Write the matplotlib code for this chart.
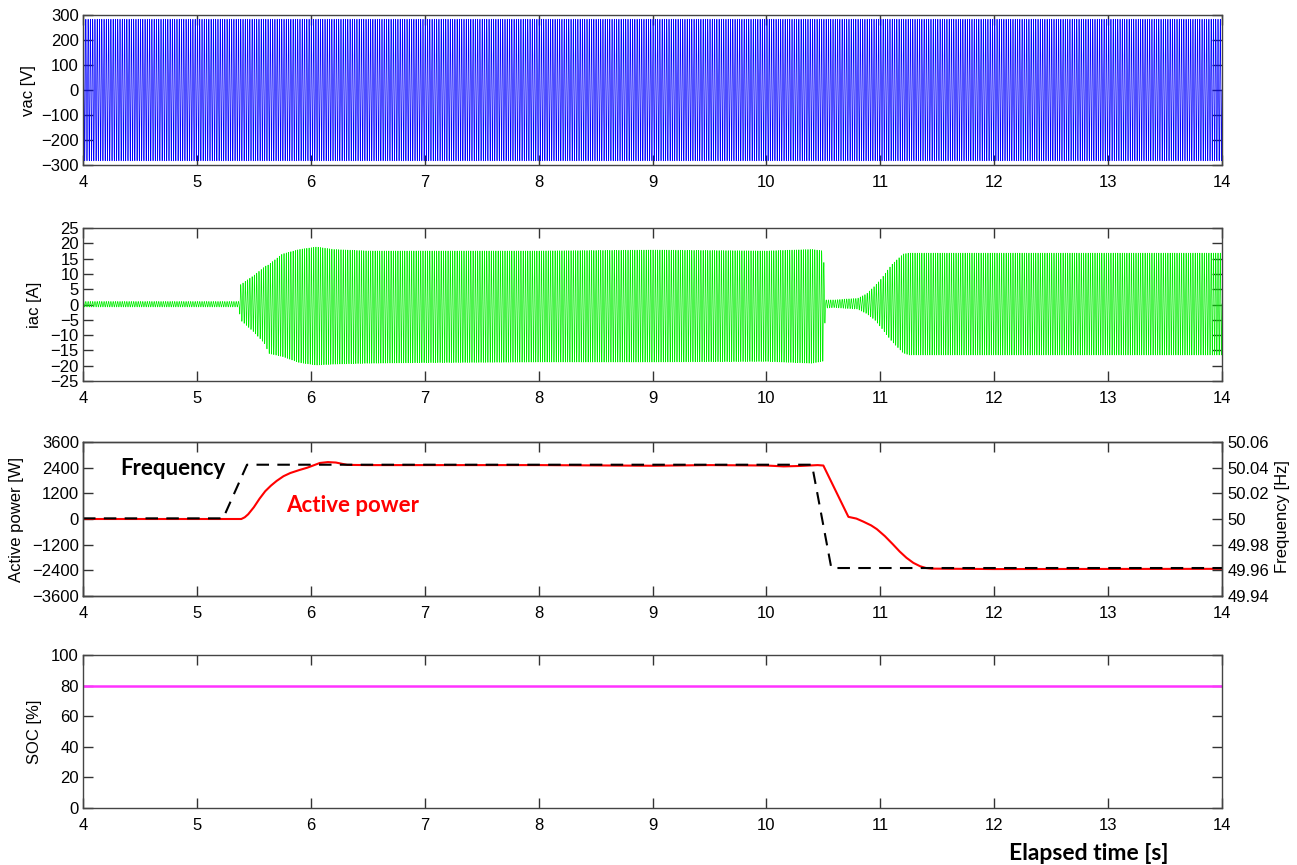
import numpy as np
import matplotlib
matplotlib.use("Agg")
import matplotlib.pyplot as plt

# envelope / trace values
grid_hz = 50.0
vac_amp = 283.0

iac_t = [4.0, 5.37, 5.38, 5.5, 5.6, 5.63, 5.75, 5.9, 6.05, 6.2, 6.5, 7.0, 8.0, 9.0,
         10.0, 10.4, 10.5, 10.52, 10.6, 10.7, 10.8, 10.88, 10.95, 11.0, 11.1, 11.2,
         11.25, 14.0]
iac_up = [1.0, 1.0, 6.4, 9.5, 12.5, 13.0, 16.5, 18.0, 18.8, 18.0, 17.5, 17.5, 17.5, 17.8,
          17.5, 18.0, 17.5, 1.5, 1.5, 1.8, 2.0, 3.5, 6.0, 8.0, 13.0, 16.5,
          16.8, 16.8]
iac_lo = [-0.8, -0.8, -5.0, -9.0, -13.0, -16.0, -17.0, -19.0, -19.8, -19.5, -19.2, -19.0, -18.8, -18.8,
          -18.6, -19.2, -18.5, -1.2, -1.0, -1.3, -1.5, -3.0, -5.0, -7.2, -12.0, -15.8,
          -16.5, -16.5]

p_t = [4.0, 5.39, 5.42, 5.45, 5.5, 5.55, 5.6, 5.65, 5.7, 5.76, 5.82, 5.9, 5.97, 6.03,
       6.08, 6.15, 6.22, 6.32, 6.5, 8.0, 9.0, 9.5, 10.0, 10.15, 10.3, 10.45, 10.5,
       10.72, 10.79, 10.85, 10.92, 10.97, 11.04, 11.11, 11.17, 11.23, 11.29, 11.35,
       11.40, 11.45, 12.0, 14.0]
p_w = [0, 0, 80, 220, 550, 950, 1300, 1560, 1780, 2000, 2150, 2290, 2400, 2520,
       2620, 2660, 2640, 2530, 2520, 2520, 2490, 2520, 2500, 2460, 2480, 2520, 2500,
       100, 20, -120, -300, -475, -800, -1180, -1520, -1815, -2050, -2210,
       -2290, -2320, -2340, -2330]

f_t = [4.0, 5.23, 5.44, 10.40, 10.57, 14.0]
f_hz = [50.0005, 50.0005, 50.0423, 50.0423, 49.9618, 49.9618]

soc_t = [4.0, 14.0]
soc = [80, 80]

t = np.linspace(4, 14, 20001)
carrier = np.sin(2 * np.pi * grid_hz * t)
vac = vac_amp * carrier
up = np.interp(t, iac_t, iac_up)
lo = np.interp(t, iac_t, iac_lo)
iac = (up + lo) / 2 + (up - lo) / 2 * carrier

plt.rcParams["font.family"] = "Liberation Sans"
plt.rcParams["font.size"] = 12
plt.rcParams["axes.edgecolor"] = "#444444"
plt.rcParams["axes.linewidth"] = 1.0

fig = plt.figure(figsize=(12.97, 8.65), dpi=100)
W, H = 1297, 865

def make_ax(top, bottom):
    return fig.add_axes([83 / W, 1 - bottom / H, (1222 - 83) / W, (bottom - top) / H])

def style(ax, right=True):
    ax.set_xlim(4, 14)
    ax.set_xticks(range(4, 15))
    ax.tick_params(direction="in", top=True, right=right, length=7, width=1,
                   color="#333333", labelsize=12)
    ax.tick_params(axis="x", pad=7)
    ax.tick_params(axis="y", pad=3)

ax1 = make_ax(15, 165)
ax1.plot(t, vac, color="#0000ff", lw=0.5)
ax1.set_ylim(-300, 300)
ax1.set_yticks(range(-300, 301, 100))
style(ax1)

ax2 = make_ax(228, 381)
ax2.plot(t, iac, color="#00ee00", lw=0.5)
ax2.set_ylim(-25, 25)
ax2.set_yticks(range(-25, 26, 5))
style(ax2)

ax3 = make_ax(442, 596)
ax3.plot(p_t, p_w, color="#ff0000", lw=1.5)
ax3.set_ylim(-3600, 3600)
ax3.set_yticks(range(-3600, 3601, 1200))
style(ax3, right=False)
ax3b = ax3.twinx()
ax3b.plot(f_t, f_hz, color="black", lw=1.5, ls=(0, (6, 4)))
ax3b.set_ylim(49.94, 50.06)
ax3b.set_yticks([49.94, 49.96, 49.98, 50.0, 50.02, 50.04, 50.06])
ax3b.set_yticklabels(["49.94", "49.96", "49.98", "50", "50.02", "50.04", "50.06"])
ax3b.tick_params(direction="in", length=7, width=1, color="#333333", labelsize=12, pad=4)
ax3.text(4.33, 2073, "Frequency", family="Lato", weight="bold", fontsize=16,
         color="black", va="baseline")
ax3.text(5.78, 310, "Active power", family="Lato", weight="bold", fontsize=16,
         color="#ff0000", va="baseline")

ax4 = make_ax(655, 808)
ax4.plot(soc_t, soc, color="#ff33ff", lw=1.8)
ax4.set_ylim(0, 100)
ax4.set_yticks(range(0, 101, 20))
style(ax4)

# axis labels
fig.text(28 / W, 1 - 91 / H, "vac [V]", rotation=90, ha="center", va="center", fontsize=12)
fig.text(35 / W, 1 - 305 / H, "iac [A]", rotation=90, ha="center", va="center", fontsize=12)
fig.text(17 / W, 1 - 519 / H, "Active power [W]", rotation=90, ha="center", va="center", fontsize=12)
fig.text(1283 / W, 1 - 517 / H, "Frequency [Hz]", rotation=90, ha="center", va="center", fontsize=12)
fig.text(35 / W, 1 - 732 / H, "SOC [%]", rotation=90, ha="center", va="center", fontsize=12)
fig.text(1089 / W, 1 - 860 / H, "Elapsed time [s]", family="Lato", weight="bold",
         fontsize=16.5, ha="center", va="baseline")

fig.savefig("out.png", dpi=100)
